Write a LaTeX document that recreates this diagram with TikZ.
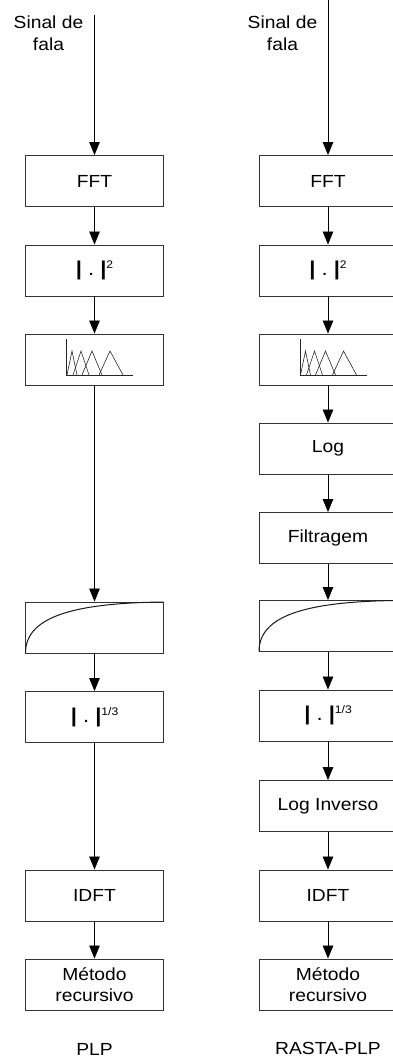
\documentclass[tikz,border=0pt]{standalone}
\usepackage{fontspec}
\setmainfont{Liberation Sans}[FakeStretch=1.1]
\usetikzlibrary{arrows.meta}
\newcommand{\magbar}{{\fontsize{20}{20}\selectfont\bfseries|}}
\newcommand{\magnitude}[1]{\magbar{\fontsize{20}{20}\selectfont\ .\ }\magbar\raisebox{7pt}{\fontsize{11}{11}\selectfont #1}}
\begin{document}
\begin{tikzpicture}[x=1pt,y=-1pt,
  blk/.style={draw=black!80,line width=0.9pt,minimum width=138pt,minimum height=51pt,
    inner sep=0pt,align=center,font=\fontsize{17.5}{21.5}\selectfont},
  flow/.style={draw=black,line width=0.8pt,-{Triangle[width=10.5pt,length=13pt]}},
  lbl/.style={align=center,inner sep=0pt,font=\fontsize{17.5}{21.5}\selectfont},
  icon/.style={line width=0.6pt,black!85}]
\clip (0,0) rectangle (393,1059);

% ---------- PLP chain ----------
\coordinate (inL) at (94.5,15);
\node[lbl] (sinL) at (48.5,33) {Sinal de\\fala};
\node[blk] (fftL) at (94.5,181) {FFT};
\node[blk] (sqL)  at (94.5,270.5) {\magnitude{2}};
\node[blk] (fbL)  at (94.5,359.5) {};
\node[blk] (cvL)  at (94.5,627.5) {};
\node[blk] (cbL)  at (94.5,717) {\magnitude{1/3}};
\node[blk] (idL)  at (94.5,895.5) {IDFT};
\node[blk] (mtL)  at (94.5,984.5) {Método\\recursivo};
\node[lbl] (plp)  at (94.5,1049) {PLP};

\draw[flow] (inL) -- (fftL);
\draw[flow] (fftL) -- (sqL);
\draw[flow] (sqL) -- (fbL);
\draw[flow] (fbL) -- (cvL);
\draw[flow] (cvL) -- (cbL);
\draw[flow] (cbL) -- (idL);
\draw[flow] (idL) -- (mtL);

% ---------- RASTA-PLP chain ----------
\coordinate (inR) at (328,0);
\node[lbl] (sinR) at (282.5,33) {Sinal de\\fala};
\node[blk] (fftR) at (328,181) {FFT};
\node[blk] (sqR)  at (328,270.5) {\magnitude{2}};
\node[blk] (fbR)  at (328,359.5) {};
\node[blk] (lgR)  at (328,448.5) {Log};
\node[blk] (ftR)  at (328,538) {Filtragem};
\node[blk] (cvR)  at (328,626) {};
\node[blk] (cbR)  at (328,715.5) {\magnitude{1/3}};
\node[blk] (liR)  at (328,806) {Log Inverso};
\node[blk] (idR)  at (328,895.5) {IDFT};
\node[blk] (mtR)  at (328,984.5) {Método\\recursivo};
\node[lbl] (rplp) at (328,1048) {RASTA-PLP};

\draw[flow] (inR) -- (fftR);
\draw[flow] (fftR) -- (sqR);
\draw[flow] (sqR) -- (fbR);
\draw[flow] (fbR) -- (lgR);
\draw[flow] (lgR) -- (ftR);
\draw[flow] (ftR) -- (cvR);
\draw[flow] (cvR) -- (cbR);
\draw[flow] (cbR) -- (liR);
\draw[flow] (liR) -- (idR);
\draw[flow] (idR) -- (mtR);

% ---------- icons: triangular filter bank ----------
\foreach \b in {fbL,fbR}{
  \begin{scope}[shift={(\b.center)}]
    \draw[icon] (-27.8,-20.5) -- (-27.8,15.5) -- (38.5,15.5);
    \draw[icon] (-27.5,15.5) -- (-22.5,-8.5) -- (-17.5,15.5);
    \draw[icon] (-21.5,15.5) -- (-13.5,-8.5) -- (-5.5,15.5);
    \draw[icon] (-12.5,15.5) -- (-2.5,-8.5) -- (7.5,15.5);
    \draw[icon] (4.5,15.5) -- (15.5,-8.5) -- (28.5,15.5);
  \end{scope}
}

% ---------- icons: compression curve ----------
\foreach \b in {cvL,cvR}{
  \begin{scope}[shift={(\b.center)}]
    \draw[line width=1pt,black!90] (-69,25.5) .. controls (-69,-9.5) and (-24.5,-24.5) .. (69,-25.5);
  \end{scope}
}
\end{tikzpicture}
\end{document}
